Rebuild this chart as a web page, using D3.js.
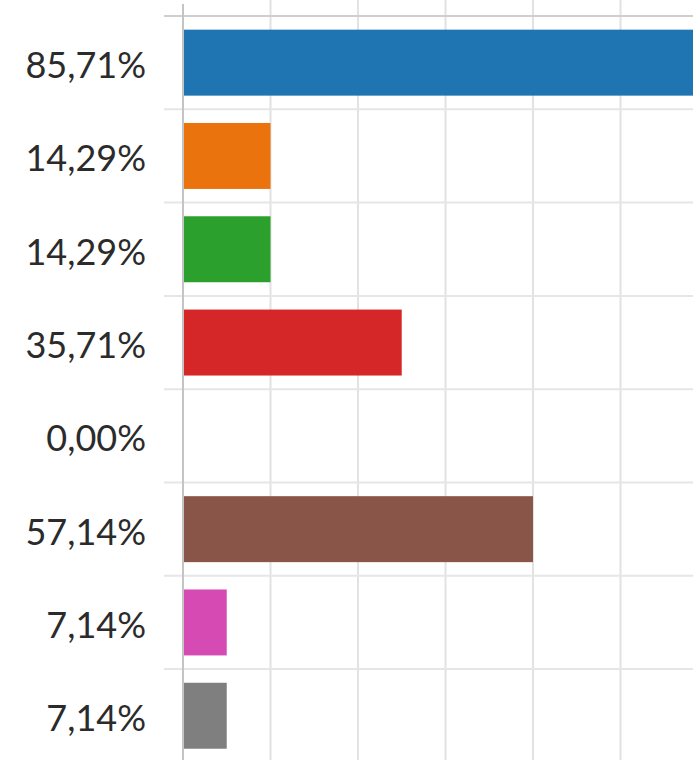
<!DOCTYPE html>
<html>
<head>
<meta charset="utf-8">
<script src="https://cdn.jsdelivr.net/npm/d3@7"></script>
<style>
  body { margin: 0; background: #fff; }
  svg { display: block; }
</style>
</head>
<body>
<script>
var w = 693;
var h = 760;
var margin = {top: 16, left: 183};

var labels = ["85,71%", "14,29%", "14,29%", "35,71%", "0,00%", "57,14%", "7,14%", "7,14%"];
var values = [85.71, 14.29, 14.29, 35.71, 0, 57.14, 7.14, 7.14];
var colors = ["#1f74b2", "#ea730e", "#2ca02c", "#d62728", "#9467bd", "#8a5549", "#d64bb3", "#7f7f7f"];
var xTicks = [0, 1, 2, 3, 4, 5, 6, 7].map(function(i) { return i * 100 / 7; });

var rows = labels.map(function(l, i) { return {id: i, label: l, value: values[i], color: colors[i]}; });

var x = d3.scaleLinear().domain([0, 100]).range([margin.left, margin.left + 612.5]);
var y = d3.scaleBand()
    .domain(rows.map(function(d) { return d.id; }))
    .range([margin.top, margin.top + 8 * 93.3])
    .paddingInner(0.293)
    .paddingOuter(0.1465);

var svg = d3.select("body")
    .append("svg")
    .attr("width", w)
    .attr("height", h);

// vertical grid
svg.append("g")
   .selectAll("line")
   .data(xTicks.slice(1))
   .enter()
   .append("line")
   .attr("x1", function(d) { return x(d); })
   .attr("x2", function(d) { return x(d); })
   .attr("y1", 0)
   .attr("y2", h)
   .attr("stroke", "#e2e2e2")
   .attr("stroke-width", 2);

// horizontal band separators
var gap = y.step() * y.paddingInner() / 2;
var seps = rows.map(function(d) { return y(d.id) - gap; });
seps.push(y(rows[rows.length - 1].id) + y.bandwidth() + gap);

svg.append("g")
   .selectAll("line")
   .data(seps)
   .enter()
   .append("line")
   .attr("x1", 164)
   .attr("x2", w)
   .attr("y1", function(d) { return d; })
   .attr("y2", function(d) { return d; })
   .attr("stroke", function(d, i) { return i == 0 ? "#cfcfcf" : "#e6e6e6"; })
   .attr("stroke-width", 2);

// bars
svg.selectAll("rect.bar")
   .data(rows)
   .enter()
   .append("rect")
   .attr("class", "bar")
   .attr("x", x(0))
   .attr("y", function(d) { return y(d.id); })
   .attr("width", function(d) { return x(d.value) - x(0); })
   .attr("height", y.bandwidth())
   .attr("fill", function(d) { return d.color; });

// value axis line
svg.append("line")
   .attr("x1", x(0))
   .attr("x2", x(0))
   .attr("y1", 4)
   .attr("y2", h)
   .attr("stroke", "#c4c4c4")
   .attr("stroke-width", 2);

// category labels
var yAxis = d3.axisLeft(y)
    .tickSize(0)
    .tickPadding(37)
    .tickFormat(function(d) { return labels[d]; });

svg.append("g")
   .attr("transform", "translate(" + margin.left + ",4)")
   .call(yAxis)
   .call(function(g) { g.select(".domain").remove(); })
   .selectAll("text")
   .attr("font-family", "Lato, sans-serif")
   .attr("font-size", "36px")
   .attr("fill", "#2b2b2b");
</script>
</body>
</html>
